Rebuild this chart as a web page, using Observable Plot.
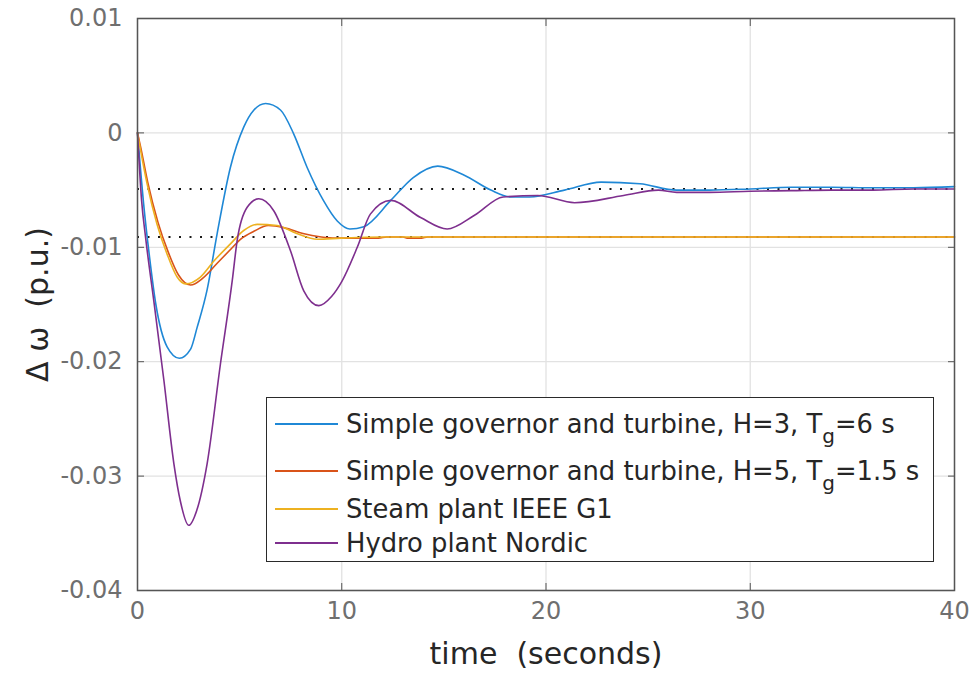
<!DOCTYPE html>
<html>
<head>
<meta charset="utf-8">
<script src="https://cdn.jsdelivr.net/npm/d3@7"></script>
<script src="https://cdn.jsdelivr.net/npm/@observablehq/plot@0.6"></script>
<style>
  body { margin: 0; background: #fff; }
  #wrap { position: relative; width: 978px; height: 675px; }
  #legend {
    position: absolute; left: 266px; top: 397px; width: 668px; height: 165px;
    box-sizing: border-box; border: 1.5px solid #2a2a2a; background: #fff;
    font-family: "DejaVu Sans"; font-size: 25.8px; color: #262626;
  }
  .row { position: absolute; left: 0; height: 0; }
  .swatch { position: absolute; left: 8px; width: 63px; top: -1px; border-top: 2px solid; }
  .lab { position: absolute; left: 79px; top: -15px; white-space: nowrap; line-height: 30px; height: 30px; }
  .lab sub { font-size: 20px; vertical-align: -10px; line-height: 0; }
</style>
</head>
<body>
<div id="wrap"></div>
<script>
// Frequency deviation after a load step, four governor/turbine models
const seriesKeys = ["simpleH3", "simpleH5", "steamG1", "hydroNordic"];
const seriesColors = ["#1f88d6", "#d95319", "#edb120", "#7e2f8e"];

const tSimpleH3 = [0, 0.3, 0.6, 0.9, 1.45, 2.05, 2.6, 2.92, 3.41, 3.9, 4.55, 5.2, 5.7, 6.27, 7.0, 7.65, 8.3, 9.1, 9.78, 10.4, 11.08, 12.4, 13.5, 14.7, 16.0, 17.3, 18.3, 19.2, 20.9, 22.7, 24.6, 26.4, 28, 30, 32, 34, 36, 38, 40];
const vSimpleH3 = [0, -0.0062, -0.0110, -0.0150, -0.0187, -0.0197, -0.0189, -0.0170, -0.0137, -0.0088, -0.0030, 0.0005, 0.0020, 0.00257, 0.0020, -0.0001, -0.0030, -0.0059, -0.0077, -0.0084, -0.0082, -0.0059, -0.0039, -0.0029, -0.0037, -0.0050, -0.0056, -0.0056, -0.0050, -0.0043, -0.00445, -0.0050, -0.0050, -0.0049, -0.00475, -0.00475, -0.0048, -0.0048, -0.0047];

const tSimpleH5 = [0, 0.15, 0.5, 1.0, 1.5, 2.0, 2.6, 3.2, 3.9, 4.6, 5.04, 5.7, 6.4, 7.2, 8.1, 9.0, 9.7, 11.8, 12.2, 13.0, 13.2, 13.9, 14.2, 20, 30, 40];
const vSimpleH5 = [0, -0.0012, -0.0043, -0.0078, -0.0104, -0.0124, -0.0133, -0.0127, -0.0114, -0.0101, -0.0093, -0.0086, -0.0081, -0.0083, -0.0088, -0.0091, -0.0092, -0.0092, -0.0091, -0.0091, -0.0092, -0.0092, -0.0091, -0.0091, -0.0091, -0.0091];

const tSteamG1 = [0, 0.15, 0.47, 0.96, 1.45, 1.94, 2.35, 3.08, 3.74, 4.55, 5.2, 5.86, 6.84, 7.8, 8.8, 10, 12, 15, 20, 25, 30, 35, 40];
const vSteamG1 = [0, -0.0015, -0.00445, -0.0080, -0.0106, -0.0126, -0.0132, -0.0126, -0.0112, -0.0097, -0.00853, -0.0080, -0.0081, -0.0088, -0.0093, -0.0092, -0.0091, -0.0091, -0.0091, -0.0091, -0.0091, -0.0091, -0.0091];

const tHydroNordic = [0, 0.2, 0.4, 0.8, 1.29, 1.78, 2.1, 2.51, 2.9, 3.41, 4.06, 4.64, 4.88, 5.37, 5.94, 6.67, 7.49, 8.14, 8.88, 9.5, 10.0, 10.76, 11.4, 12.4, 13.86, 15.16, 16.5, 17.9, 19.6, 21.4, 23.8, 25.5, 26.4, 28, 30, 32, 34, 36, 38, 40];
const vHydroNordic = [0, -0.0059, -0.0092, -0.0147, -0.0216, -0.0289, -0.0322, -0.0343, -0.0330, -0.0289, -0.0202, -0.0129, -0.0094, -0.0065, -0.00576, -0.0068, -0.0103, -0.0138, -0.0151, -0.0143, -0.0130, -0.0100, -0.0071, -0.0059, -0.0074, -0.0084, -0.0072, -0.0056, -0.00547, -0.0061, -0.00547, -0.0050, -0.0052, -0.0052, -0.0051, -0.00505, -0.0050, -0.0050, -0.0049, -0.0049];

// Steady-state deviations (dotted reference lines)
const steadyState = [-0.0049, -0.0091];

const xTicks = [0, 10, 20, 30, 40];
const xTickLabels = ["0", "10", "20", "30", "40"];
const yTicks = [0.01, 0, -0.01, -0.02, -0.03, -0.04];
const yTickLabels = ["0.01", "0", "-0.01", "-0.02", "-0.03", "-0.04"];

const xLabel = "time  (seconds)";
const yLabel = "Δ ω  (p.u.)";

const legendEntries = [
  "Simple governor and turbine, H=3, T<sub>g</sub>=6 s",
  "Simple governor and turbine, H=5, T<sub>g</sub>=1.5 s",
  "Steam plant IEEE G1",
  "Hydro plant Nordic"
];

const times = [tSimpleH3, tSimpleH5, tSteamG1, tHydroNordic];
const values = [vSimpleH3, vSimpleH5, vSteamG1, vHydroNordic];
const rows = seriesKeys.flatMap((key, s) => times[s].map((t, i) => ({series: key, t, v: values[s][i]})));

const tickGray = "#6f6f6f";
const frameGray = "#555";

const chart = Plot.plot({
  width: 978,
  height: 675,
  marginLeft: 137,
  marginRight: 24,
  marginTop: 18,
  marginBottom: 85,
  style: {fontFamily: "DejaVu Sans", background: "#fff", overflow: "visible"},
  x: {domain: [0, 40]},
  y: {domain: [-0.04, 0.01]},
  color: {domain: seriesKeys, range: seriesColors},
  marks: [
    Plot.gridX(xTicks, {stroke: "#e2e2e2", strokeOpacity: 1, strokeWidth: 1.3}),
    Plot.gridY(yTicks, {stroke: "#e2e2e2", strokeOpacity: 1, strokeWidth: 1.3}),
    Plot.ruleY(steadyState, {stroke: "#1a1a1a", strokeWidth: 2, strokeDasharray: "2,8.5"}),
    Plot.line(rows, {x: "t", y: "v", z: "series", stroke: "series", curve: "monotone-x", strokeWidth: 1.6}),
    Plot.axisX({ticks: xTicks, tickSize: -7, tickPadding: 18, fontSize: 24, color: tickGray, stroke: frameGray,
      tickFormat: d => xTickLabels[xTicks.indexOf(d)], label: null}),
    Plot.axisX({anchor: "top", ticks: xTicks, tickSize: -7, tickFormat: () => "", label: null, stroke: frameGray}),
    Plot.axisY({ticks: yTicks, tickSize: -7, tickPadding: 22, fontSize: 24, color: tickGray, stroke: frameGray,
      tickFormat: d => yTickLabels[yTicks.indexOf(d)], label: null}),
    Plot.axisY({anchor: "right", ticks: yTicks, tickSize: -7, tickFormat: () => "", label: null, stroke: frameGray}),
    Plot.frame({stroke: frameGray, strokeWidth: 1.5}),
    Plot.text([xLabel], {text: d => d, frameAnchor: "bottom", textAnchor: "middle", dy: 73, fontSize: 30, fill: "#262626"}),
    Plot.text([yLabel], {text: d => d, frameAnchor: "left", textAnchor: "middle", rotate: -90, dx: -99, fontSize: 30, fill: "#262626"})
  ]
});

const wrap = document.getElementById("wrap");
wrap.appendChild(chart);

// Legend box overlaid on the lower-right of the plot area
const legend = document.createElement("div");
legend.id = "legend";
const rowTops = [26, 73, 111, 145];
legendEntries.forEach((html, i) => {
  const row = document.createElement("div");
  row.className = "row";
  row.style.top = rowTops[i] + "px";
  row.innerHTML = `<div class="swatch" style="border-color:${seriesColors[i]}"></div><div class="lab">${html}</div>`;
  legend.appendChild(row);
});
wrap.appendChild(legend);
</script>
</body>
</html>
